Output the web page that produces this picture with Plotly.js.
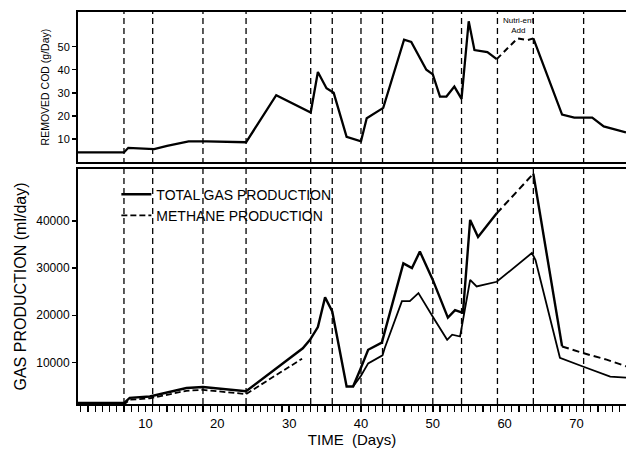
<!DOCTYPE html>
<html>
<head>
<meta charset="utf-8">
<script src="https://cdn.plot.ly/plotly-3.0.1.min.js"></script>
<style>html,body{margin:0;padding:0;background:#fff;}#chart{width:626px;height:451px;}</style>
</head>
<body>
<div id="chart"></div>
<script>
// ---- data ----
const eventDays = [7, 11, 18, 24, 33, 36, 40, 43, 50, 54, 59, 64, 71];

const codDays   = [0.6, 7, 7.6, 9, 11.2, 13, 16, 18.5, 24, 28.2, 33, 34, 35.2, 36.2, 38, 40, 40.8, 43.1, 46, 47, 49.1, 50, 51, 51.9, 53, 54, 55, 55.8, 57.6, 58.9, 61.8, 63.2, 64, 68, 69.7, 72.2, 73.8, 76.9];
const codValues = [4.2, 4.2, 6.2, 6.0, 5.6, 7, 9, 9, 8.6, 29, 21.5, 39, 32, 30, 11, 9, 19, 23.5, 53, 52, 40, 38, 28.4, 28.4, 32.7, 27.4, 61, 48.5, 47.6, 44.6, 53.6, 52.8, 53.6, 20.6, 19.3, 19.3, 15.5, 12.9];

const totalDays   = [0.6, 7, 7.8, 10.6, 15.7, 18, 24, 31.9, 32.9, 34, 35, 36, 38, 38.9, 39.9, 41, 42.9, 45.9, 47.1, 48.2, 50, 52.1, 53.1, 54.2, 55.2, 56.3, 58.9, 64, 68, 70.9, 74.2, 76.9];
const totalValues = [1400, 1400, 2500, 2800, 4600, 4800, 3900, 13000, 14800, 17500, 23800, 20800, 4900, 4900, 8500, 12700, 14200, 31000, 30000, 33500, 27500, 19500, 21100, 20500, 40200, 36600, 41600, 50000, 13400, 12000, 10600, 9200];

const methaneDays   = [0.6, 7, 7.8, 10.6, 15.7, 18, 24, 31.8, 38.9, 40, 41, 43, 43.3, 45.7, 46.8, 48, 50, 52, 52.7, 53.8, 55.2, 56.1, 58.9, 63.8, 64.3, 67.7, 70.8, 74.7, 76.9];
const methaneValues = [1100, 1100, 2100, 2400, 4000, 4200, 3300, 10800, 4900, 7200, 9800, 11500, 13000, 23000, 23000, 24700, 19700, 14800, 15900, 15500, 27500, 26100, 27100, 33200, 31700, 11000, 9200, 7000, 6800];

const xTickVals = [10, 20, 30, 40, 50, 60, 70];
const codTicks = [10, 20, 30, 40, 50];
const gasTicks = [10000, 20000, 30000, 40000];
const gasTickText = ['10000', '20000', '30000', '40000'];

// ---- helpers ----
function seg(days, vals, from, to) {
  const x = [], y = [];
  days.forEach((d, i) => { if (d >= from && d <= to) { x.push(d); y.push(vals[i]); } });
  return {x, y};
}
function line(s, xa, ya, width, dash, name, showlegend) {
  return {x: s.x, y: s.y, xaxis: xa, yaxis: ya, type: 'scatter', mode: 'lines',
    line: {color: '#000', width: width, dash: dash},
    name: name || '', showlegend: !!showlegend, hoverinfo: 'skip'};
}

const traces = [
  // Total gas production (bottom panel)
  line(seg(totalDays, totalValues, 0, 58.9), 'x', 'y', 2.4, 'solid', 'TOTAL GAS PRODUCTION', true),
  line(seg(totalDays, totalValues, 58.9, 64), 'x', 'y', 2.0, '7px,4px'),
  line(seg(totalDays, totalValues, 64, 68), 'x', 'y', 2.4, 'solid'),
  line(seg(totalDays, totalValues, 68, 80), 'x', 'y', 2.0, '7px,4px'),
  // Methane production
  line(seg(methaneDays, methaneValues, 0, 32), 'x', 'y', 1.8, '6px,3px', 'METHANE PRODUCTION', true),
  line(seg(methaneDays, methaneValues, 38.9, 80), 'x', 'y', 1.8, 'solid'),
  // Removed COD (top panel)
  line(seg(codDays, codValues, 0, 58.9), 'x2', 'y2', 2.3, 'solid'),
  line(seg(codDays, codValues, 58.9, 64), 'x2', 'y2', 2.0, '6px,4px'),
  line(seg(codDays, codValues, 64, 80), 'x2', 'y2', 2.3, 'solid')
];

const shapes = eventDays.map(d => ({
  type: 'line', xref: 'x', yref: 'paper', x0: d, x1: d, y0: 0, y1: 1,
  line: {color: '#000', width: 1.3, dash: '6px,4px'}, layer: 'above'
}));

const fontFam = '"Liberation Sans", Arial, sans-serif';
const layout = {
  width: 626, height: 451,
  margin: {l: 78, r: 0, t: 12, b: 47},
  paper_bgcolor: '#fff', plot_bgcolor: '#fff',
  font: {family: fontFam, color: '#000', size: 12},
  showlegend: true,
  legend: {x: 0.07, y: 0.575, xanchor: 'left', yanchor: 'top', bgcolor: 'rgba(0,0,0,0)',
    font: {family: fontFam, size: 14, color: '#000'}, tracegroupgap: 0, itemwidth: 30},
  xaxis: {
    domain: [0, 1], anchor: 'y', range: [0.6, 76.9],
    showline: true, linecolor: '#000', linewidth: 2, mirror: true,
    ticks: 'outside', tickvals: xTickVals, ticklen: 6, tickwidth: 1.5, tickcolor: '#000',
    minor: {dtick: 1, tick0: 0, ticks: 'outside', ticklen: 6, tickwidth: 1.2, tickcolor: '#000', showgrid: false},
    showgrid: false, zeroline: false,
    tickfont: {family: fontFam, size: 13, color: '#000'},
    title: {text: 'TIME  (Days)', font: {family: fontFam, size: 15, color: '#000'}, standoff: 4}
  },
  yaxis: {
    domain: [0, 0.5995], anchor: 'x', range: [1200, 51000],
    showline: true, linecolor: '#000', linewidth: 2, mirror: false,
    ticks: 'outside', tickvals: gasTicks, ticktext: gasTickText, ticklen: 4, tickwidth: 1.5, tickcolor: '#000',
    showgrid: false, zeroline: false,
    tickfont: {family: fontFam, size: 12, color: '#000'},
    title: {text: 'GAS PRODUCTION (ml/day)', font: {family: fontFam, size: 16, color: '#000'}, standoff: 6}
  },
  xaxis2: {
    domain: [0, 1], anchor: 'y2', matches: 'x', range: [0.6, 76.9],
    showline: true, linecolor: '#000', linewidth: 2, mirror: true,
    showticklabels: false, ticks: '', showgrid: false, zeroline: false
  },
  yaxis2: {
    domain: [0.617, 1], anchor: 'x2', range: [0, 65],
    showline: true, linecolor: '#000', linewidth: 2, mirror: false,
    ticks: 'outside', tickvals: codTicks, ticklen: 4, tickwidth: 1.5, tickcolor: '#000',
    showgrid: false, zeroline: false,
    tickfont: {family: fontFam, size: 11, color: '#000'},
    title: {text: 'REMOVED COD (g/Day)', font: {family: fontFam, size: 10.5, color: '#000'}, standoff: 6}
  },
  shapes: shapes,
  annotations: [{
    xref: 'x2', yref: 'y2', x: 61.9, y: 59, text: 'Nutri-ent<br>Add', showarrow: false,
    font: {family: fontFam, size: 8, color: '#000'}
  }]
};

Plotly.newPlot('chart', traces, layout, {staticPlot: true, displayModeBar: false});
</script>
</body>
</html>
